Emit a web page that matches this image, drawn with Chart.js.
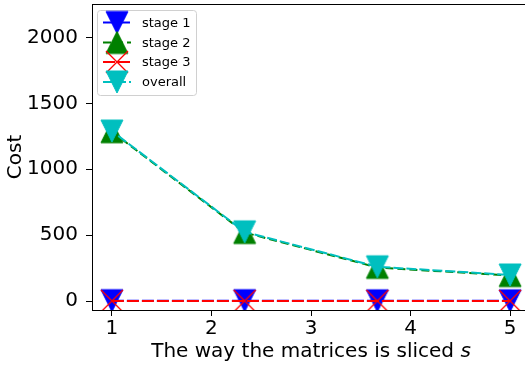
<!DOCTYPE html>
<html>
<head>
<meta charset="utf-8">
<script src="https://cdn.jsdelivr.net/npm/chart.js@4/dist/chart.umd.min.js"></script>
<style>
  html, body { margin: 0; padding: 0; background: #fff; overflow: hidden; width: 525px; height: 370px; }
  #wrap { width: 540px; height: 370px; }
</style>
</head>
<body>
<div id="wrap"><canvas id="c" width="540" height="370"></canvas></div>
<script>
// Ways of slicing the matrices (x positions)
const sliceWays = [1, 2.3333, 3.6667, 5];
const xTickValues = [1, 2, 3, 4, 5];
const yTickValues = [0, 500, 1000, 1500, 2000];

// Cost per stage
const stage1Cost = [3, 3, 2, 2];
const stage2Cost = [1285, 520, 255, 193];
const stage3Cost = [1, 1, 1, 1];
const overallCost = [1290, 525, 260, 198];

const seriesNames = ['stage 1', 'stage 2', 'stage 3', 'overall'];

const FONT = '"DejaVu Sans", "Liberation Sans", sans-serif';

// Marker glyphs: filled triangles and a thin cross
function marker(kind, color) {
  const c = document.createElement('canvas');
  c.width = 26; c.height = 26;
  const g = c.getContext('2d');
  const m = 13, h = 11;
  g.fillStyle = color;
  g.strokeStyle = color;
  g.lineWidth = 1;
  g.beginPath();
  if (kind === 'up') {
    g.moveTo(m, m - h); g.lineTo(m - h, m + h); g.lineTo(m + h, m + h); g.closePath();
    g.fill(); g.stroke();
  } else if (kind === 'down') {
    g.moveTo(m, m + h); g.lineTo(m - h, m - h); g.lineTo(m + h, m - h); g.closePath();
    g.fill(); g.stroke();
  } else {
    g.lineWidth = 1.3;
    g.moveTo(m - h, m - h); g.lineTo(m + h, m + h);
    g.moveTo(m + h, m - h); g.lineTo(m - h, m + h);
    g.stroke();
  }
  return c;
}

function points(values) {
  return sliceWays.map((x, i) => ({ x: x, y: values[i] }));
}

const datasets = [
  { label: seriesNames[0], data: points(stage1Cost), borderColor: '#0000ff', dash: [12, 3], dashOffset: 0,
    pointStyle: marker('down', '#0000ff'), order: 4 },
  { label: seriesNames[1], data: points(stage2Cost), borderColor: '#008000', dash: [8, 4], dashOffset: 0,
    pointStyle: marker('up', '#008000'), order: 3 },
  { label: seriesNames[2], data: points(stage3Cost), borderColor: '#ff0000', dash: [12, 3], dashOffset: 0,
    pointStyle: marker('x', '#ff0000'), order: 2 },
  { label: seriesNames[3], data: points(overallCost), borderColor: '#00bfbf', dash: [10, 3], dashOffset: 5,
    pointStyle: marker('down', '#00bfbf'), order: 1 }
].map(d => Object.assign(d, {
  borderWidth: 2,
  borderDash: d.dash,
  borderDashOffset: d.dashOffset,
  backgroundColor: d.borderColor,
  pointRadius: 11,
  pointHoverRadius: 11,
  tension: 0,
  clip: 0,
  fill: false
}));

// Top spine, in-axes legend and axis titles
const decorations = {
  id: 'decorations',
  afterDraw(chart) {
    const ctx = chart.ctx;
    const a = chart.chartArea;
    ctx.save();

    ctx.strokeStyle = '#000';
    ctx.lineWidth = 1;
    ctx.beginPath();
    ctx.moveTo(a.left, a.top + 0.5);
    ctx.lineTo(a.right, a.top + 0.5);
    ctx.stroke();

    // legend box
    const bx = 97.5, by = 10.5, bw = 99, bh = 85, r = 3;
    ctx.beginPath();
    ctx.moveTo(bx + r, by);
    ctx.arcTo(bx + bw, by, bx + bw, by + bh, r);
    ctx.arcTo(bx + bw, by + bh, bx, by + bh, r);
    ctx.arcTo(bx, by + bh, bx, by, r);
    ctx.arcTo(bx, by, bx + bw, by, r);
    ctx.closePath();
    ctx.fillStyle = 'rgba(255,255,255,0.8)';
    ctx.fill();
    ctx.strokeStyle = '#d0d0d0';
    ctx.stroke();

    const rows = [22.5, 42.5, 62, 82];
    chart.data.datasets.forEach((d, i) => {
      const y = rows[i];
      ctx.save();
      ctx.strokeStyle = d.borderColor;
      ctx.lineWidth = 2;
      ctx.setLineDash(d.borderDash);
      ctx.beginPath();
      ctx.moveTo(103, y);
      ctx.lineTo(131, y);
      ctx.stroke();
      ctx.restore();
      ctx.drawImage(d.pointStyle, 117 - 13, y - 13);
      ctx.fillStyle = '#000';
      ctx.font = '13px ' + FONT;
      ctx.textAlign = 'left';
      ctx.textBaseline = 'middle';
      ctx.fillText(d.label, 142, y + 1);
    });

    // x-axis title with italic symbol
    const main = 'The way the matrices is sliced ';
    ctx.fillStyle = '#000';
    ctx.textBaseline = 'middle';
    ctx.textAlign = 'left';
    ctx.font = '20px ' + FONT;
    const wMain = ctx.measureText(main).width;
    ctx.font = 'italic 20px ' + FONT;
    const wSym = ctx.measureText('s').width;
    const x0 = (a.left + a.right) / 2 - (wMain + wSym) / 2;
    ctx.font = '20px ' + FONT;
    ctx.fillText(main, x0, 352);
    ctx.font = 'italic 20px ' + FONT;
    ctx.fillText('s', x0 + wMain, 352);

    // y-axis title
    ctx.translate(16, (a.top + a.bottom) / 2);
    ctx.rotate(-Math.PI / 2);
    ctx.textAlign = 'center';
    ctx.font = '20px ' + FONT;
    ctx.fillText('Cost', 0, 0);

    ctx.restore();
  }
};

new Chart(document.getElementById('c'), {
  type: 'line',
  data: { datasets: datasets },
  options: {
    responsive: false,
    animation: false,
    events: [],
    layout: { autoPadding: false, padding: { top: 4, right: 10, left: 0, bottom: 0 } },
    plugins: { legend: { display: false }, tooltip: { enabled: false }, title: { display: false } },
    scales: {
      x: {
        type: 'linear',
        min: 0.8,
        max: 5.2,
        afterBuildTicks: s => { s.ticks = xTickValues.map(v => ({ value: v })); },
        afterFit: s => { s.height = 60; s.paddingLeft = 0; s.paddingRight = 0; },
        ticks: { color: '#000', font: { family: FONT, size: 20 }, padding: 1, maxRotation: 0,
                 callback: v => String(v) },
        grid: { display: true, drawOnChartArea: false, drawTicks: true, tickLength: 6, tickColor: '#000', tickWidth: 1 },
        border: { display: true, color: '#000', width: 1 }
      },
      y: {
        type: 'linear',
        min: -68,
        max: 2254,
        afterBuildTicks: s => { s.ticks = yTickValues.map(v => ({ value: v })); },
        afterFit: s => { s.width = 92; s.paddingTop = 0; s.paddingBottom = 0; },
        ticks: { color: '#000', font: { family: FONT, size: 20 }, padding: 8,
                 callback: v => String(v) },
        grid: { display: true, drawOnChartArea: false, drawTicks: true, tickLength: 6, tickColor: '#000', tickWidth: 1 },
        border: { display: true, color: '#000', width: 1 }
      }
    }
  },
  plugins: [decorations]
});
</script>
</body>
</html>
